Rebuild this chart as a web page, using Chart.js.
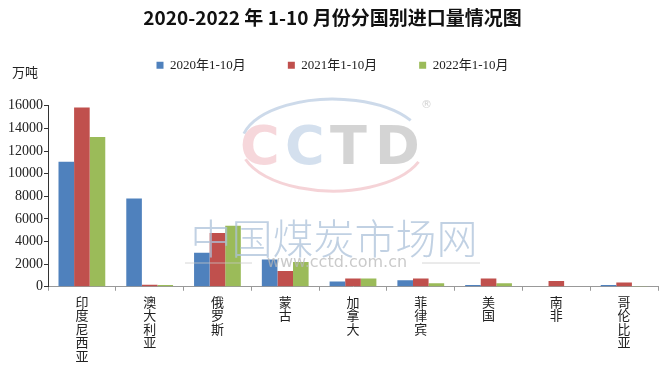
<!DOCTYPE html>
<html>
<head>
<meta charset="utf-8">
<script src="https://cdn.jsdelivr.net/npm/chart.js@4"></script>
<style>
  html, body { margin: 0; padding: 0; background: #fff; }
  #wrap { width: 667px; height: 372px; position: relative; }
</style>
</head>
<body>
<div id="wrap"><canvas id="chart"></canvas></div>
<script>
// 2020-2022 coal imports by country, Jan-Oct (unit: 10k tonnes)
const countries = ["印度尼西亚", "澳大利亚", "俄罗斯", "蒙古", "加拿大", "菲律宾", "美国", "南非", "哥伦比亚"];
const seriesNames = ["2020年1-10月", "2021年1-10月", "2022年1-10月"];
const values2020 = [11050, 7800, 3000, 2420, 470, 580, 150, 0, 150];
const values2021 = [15850, 170, 4750, 1400, 730, 730, 730, 500, 380];
const values2022 = [13250, 150, 5400, 2180, 730, 320, 320, 0, 60];
const colors = ["#4f81bd", "#c0504d", "#9bbb59"];
const yTicks = [0, 2000, 4000, 6000, 8000, 10000, 12000, 14000, 16000];

const serif = "'Liberation Serif', 'Noto Sans CJK SC', serif";
const cjk = "'Noto Sans CJK SC', sans-serif";

// leave room between legend and plot, like the original
const legendSpacer = {
  id: "legendSpacer",
  beforeInit(chart) {
    const fit = chart.legend.fit;
    chart.legend.fit = function () {
      fit.call(this);
      this.height += 24;
    };
  },
};

// unit label top-left + faint site watermark
const decorPlugin = {
  id: "decor",
  afterDatasetsDraw(chart) {
    const ctx = chart.ctx;
    ctx.save();
    ctx.globalAlpha = 0.75;

    // logo arcs
    ctx.lineWidth = 3;
    ctx.strokeStyle = "#bccde3";
    ctx.beginPath();
    ctx.ellipse(333, 145, 92, 46, 0, Math.PI * 1.08, Math.PI * 1.82);
    ctx.stroke();
    ctx.strokeStyle = "#f2c4ca";
    ctx.beginPath();
    ctx.ellipse(333, 145, 92, 46, 0, Math.PI * 0.12, Math.PI * 0.9);
    ctx.stroke();

    // CCTD letters
    ctx.font = "bold 54px 'DejaVu Sans', sans-serif";
    ctx.textBaseline = "middle";
    ctx.textAlign = "left";
    const letters = [["C", "#f3c9cf"], ["C", "#c6d5e8"], ["T", "#c6c6c6"], ["D", "#c6c6c6"]];
    let x = 240;
    letters.forEach(([ch, c]) => {
      ctx.fillStyle = c;
      ctx.fillText(ch, x, 150);
      x += 45;
    });
    ctx.font = "11px 'DejaVu Sans', sans-serif";
    ctx.fillStyle = "#c4c4c4";
    ctx.fillText("®", 421, 105);

    // site name
    ctx.font = "300 41px " + cjk;
    ctx.fillStyle = "#acc1da";
    ctx.textAlign = "center";
    ctx.fillText("中国煤炭市场网", 334, 238);
    ctx.font = "16px 'DejaVu Sans', sans-serif";
    ctx.fillStyle = "#b8b8b8";
    ctx.fillText("www.cctd.com.cn", 337, 263);
    ctx.strokeStyle = "#c8c8c8";
    ctx.lineWidth = 1;
    ctx.beginPath();
    ctx.moveTo(185, 263); ctx.lineTo(252, 263);
    ctx.moveTo(422, 263); ctx.lineTo(480, 263);
    ctx.stroke();
    ctx.restore();

    ctx.save();
    ctx.font = "13px " + cjk;
    ctx.fillStyle = "#222";
    ctx.textAlign = "left";
    ctx.textBaseline = "middle";
    ctx.fillText("万吨", 12, 72);
    ctx.restore();
  },
};

const datasets = [values2020, values2021, values2022].map((data, i) => ({
  label: seriesNames[i],
  data,
  backgroundColor: colors[i],
  borderWidth: 0,
  categoryPercentage: 0.69,
  barPercentage: 1.0,
}));

new Chart(document.getElementById("chart"), {
  type: "bar",
  data: {
    labels: countries.map((name) => name.split("")),
    datasets,
  },
  plugins: [legendSpacer, decorPlugin],
  options: {
    responsive: true,
    maintainAspectRatio: false,
    animation: false,
    layout: { padding: { left: 7, right: 9, top: 0, bottom: 5 } },
    plugins: {
      title: {
        display: true,
        text: "2020-2022 年 1-10 月份分国别进口量情况图",
        color: "#111",
        font: { family: cjk, size: 19, weight: "bold" },
        padding: { top: 6, bottom: -12 },
      },
      legend: {
        labels: {
          boxWidth: 7,
          boxHeight: 7,
          padding: 42,
          color: "#222",
          font: { family: serif, size: 13 },
        },
      },
      tooltip: { enabled: false },
    },
    scales: {
      x: {
        grid: {
          display: true,
          drawOnChartArea: false,
          drawTicks: true,
          tickLength: 4,
          color: "#999",
        },
        border: { color: "#999", width: 1 },
        ticks: {
          color: "#222",
          padding: 4,
          maxRotation: 0,
          autoSkip: false,
          font: { family: cjk, size: 13, lineHeight: 1.05 },
        },
      },
      y: {
        min: 0,
        max: 16000,
        afterBuildTicks(scale) {
          scale.ticks = yTicks.map((v) => ({ value: v }));
        },
        grid: {
          display: true,
          drawOnChartArea: false,
          drawTicks: true,
          tickLength: 4,
          color: "#333",
        },
        border: { color: "#333", width: 1 },
        ticks: {
          color: "#222",
          padding: 1,
          font: { family: serif, size: 14 },
          callback: (value) => String(value),
        },
      },
    },
  },
});
</script>
</body>
</html>
